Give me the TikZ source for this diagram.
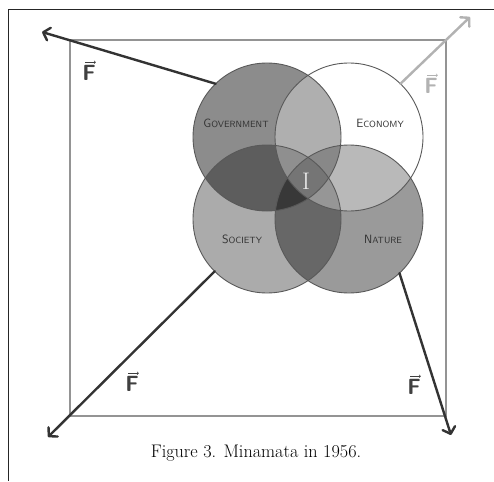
\documentclass[tikz,border=0pt]{standalone}
\usetikzlibrary{arrows.meta,calc}
\tikzset{
  venn/.style={circle, minimum size=148pt, inner sep=0pt, outer sep=0pt},
  shade/.style={venn, fill=black, fill opacity=#1},
  veil/.style={venn, fill=white, fill opacity=0.31},
  ring/.style={draw=black!65, line width=0.9pt},
  force/.style={line width=2.4pt, draw=black!80, line cap=round,
    -{Straight Barb[length=6pt,width=13pt,line cap=round,line join=round]}},
  faintforce/.style={force, draw=black!30},
  flabel/.style={text=black!75, inner sep=0pt, font=\sffamily\bfseries\fontsize{22}{22}\selectfont},
  vecbar/.style={line width=0.6pt, draw=black!75, -{Straight Barb[length=1.4pt,width=2.8pt]}},
  setname/.style={text=black!80, font=\sffamily, inner sep=0pt},
  square/.style={draw=black!42, line width=2.4pt},
  pageframe/.style={draw=black!85, line width=1pt},
}
\newcommand\capsname[2]{{\fontsize{12}{12}\selectfont #1}{\fontsize{9}{9}\selectfont #2}}
\begin{document}
\begin{tikzpicture}[x=1pt, y=-1pt]
  \useasboundingbox (0,0) rectangle (494,481);
  \fill[white] (0,0) rectangle (494,481);

  % page frame (top and left rules)
  \draw[pageframe] (494,10) -- (8,10) -- (8,481);

  % enclosing square
  \draw[square] (70,40) rectangle (446,416);

  % four overlapping sets: darkening sets first, then the light veil
  \node[shade=0.45] (gov) at (267,137) {};
  \node[shade=0.33] (soc) at (267,219) {};
  \node[shade=0.395] (nat) at (349,219) {};
  \node[veil] (eco) at (349,137) {};
  \foreach \c in {gov,eco,soc,nat}
    \draw[ring] (\c.center) circle[radius=74pt];

  % set names
  \node[setname] at (236,123) {\capsname{G}{OVERNMENT}};
  \node[setname] at (380,123) {\capsname{E}{CONOMY}};
  \node[setname] at (242,239) {\capsname{S}{OCIETY}};
  \node[setname] at (383,239) {\capsname{N}{ATURE}};
  \node[text=black!8, font=\fontsize{24}{24}\selectfont] (core) at (306,181) {I};

  % forces pulling outward
  \coordinate (tl) at (42,32);
  \coordinate (tr) at (470,17);
  \coordinate (bl) at (48,437);
  \coordinate (br) at (451,435);
  \draw[force] (gov.134) -- (tl);
  \draw[faintforce] (eco.46) -- (tr);
  \draw[force] (soc.225) -- (bl);
  \draw[force] (nat.-47) -- (br);

  % force labels: bold F with a small vector arrow above
  \node[flabel] (ftl) at (89,73) {F};
  \node[flabel, text=black!30] (ftr) at (431,86) {F};
  \node[flabel] (fbl) at (132,384) {F};
  \node[flabel] (fbr) at (414,387) {F};
  \foreach \f/\g in {ftl/black!75, ftr/black!30, fbl/black!75, fbr/black!75}
    \draw[vecbar, draw=\g] ($(\f.north west)+(3,-3)$) -- ($(\f.north east)+(0,-3)$);

  % caption
  \node[font=\fontsize{18.2}{18.2}\selectfont] (cap) at (256,453) {Figure 3. Minamata in 1956.};
\end{tikzpicture}
\end{document}
